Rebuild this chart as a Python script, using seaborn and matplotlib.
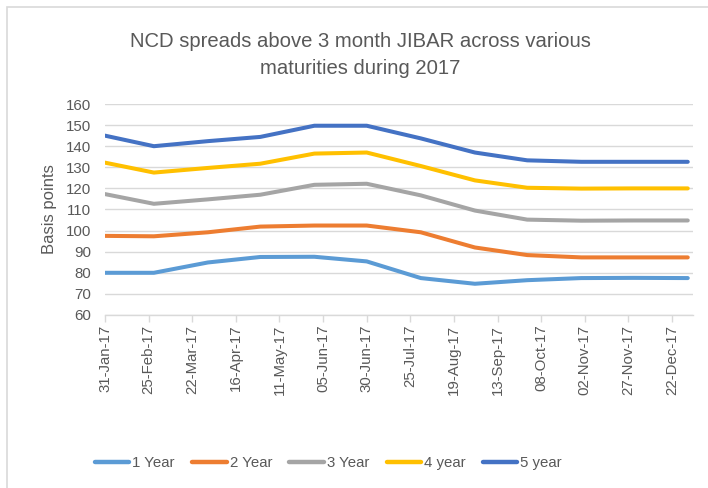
import pandas as pd
import matplotlib
matplotlib.use('Agg')
import matplotlib.pyplot as plt
import matplotlib.dates as mdates
from matplotlib.patches import Rectangle
import seaborn as sns

# Month-end observation dates (2017)
dates = ['2017-01-31', '2017-02-28', '2017-03-31', '2017-04-30', '2017-05-31', '2017-06-30',
         '2017-07-31', '2017-08-31', '2017-09-30', '2017-10-31', '2017-11-30', '2017-12-31']

# NCD spreads above 3m JIBAR, basis points
one_year = [80.0, 80.0, 84.9, 87.5, 87.6, 85.4, 77.5, 74.8, 76.5, 77.5, 77.6, 77.5]
two_year = [97.5, 97.3, 99.2, 101.9, 102.4, 102.4, 99.2, 92.0, 88.4, 87.3, 87.3, 87.3]
three_year = [117.3, 112.7, 114.8, 117.0, 121.7, 122.2, 116.7, 109.5, 105.2, 104.7, 104.8, 104.8]
four_year = [132.2, 127.5, 129.7, 131.7, 136.5, 137.0, 130.6, 123.8, 120.3, 119.9, 120.0, 120.0]
five_year = [145.0, 140.0, 142.4, 144.4, 149.7, 149.7, 143.7, 137.0, 133.3, 132.6, 132.6, 132.6]

series_names = ['1 Year', '2 Year', '3 Year', '4 year', '5 year']
colours = ['#5B9BD5', '#ED7D31', '#A5A5A5', '#FFC000', '#4472C4']

title = 'NCD spreads above 3 month JIBAR across various\nmaturities during 2017'

# long format for seaborn
frames = []
for name, vals in zip(series_names, [one_year, two_year, three_year, four_year, five_year]):
    frames.append(pd.DataFrame({'date': pd.to_datetime(dates), 'spread': vals, 'serie': name}))
df = pd.concat(frames, ignore_index=True)

sns.set_theme(style='white')
plt.rcParams['font.family'] = ['Liberation Sans', 'DejaVu Sans']
txt = '#595959'

fig = plt.figure(figsize=(7.08, 4.88), dpi=100)
ax = fig.add_axes([105 / 708, 1 - 315 / 488, 588 / 708, 211 / 488])

# chart-area border (left and top visible)
fig.patches.append(Rectangle((6.5 / 708, -0.1), 1.2, 1.1 - 7.5 / 488,
                             transform=fig.transFigure, fill=False,
                             edgecolor='#D9D9D9', linewidth=1.2, zorder=0))

sns.lineplot(data=df, x='date', y='spread', hue='serie', palette=colours,
             linewidth=2.9, ax=ax, legend=True, solid_capstyle='round',
             solid_joinstyle='round')

ax.set_ylim(60, 160)
ax.set_yticks(range(60, 161, 10))
ax.set_xlim(pd.Timestamp('2017-01-31'), pd.Timestamp('2018-01-03'))
ticks = pd.date_range('2017-01-31', periods=14, freq='25D')
ax.set_xticks(ticks)
ax.xaxis.set_major_formatter(mdates.DateFormatter('%d-%b-%y'))

ax.grid(axis='y', color='#D9D9D9', linewidth=1.0)
ax.grid(axis='x', visible=False)
ax.set_axisbelow(True)
for s in ['top', 'right', 'left']:
    ax.spines[s].set_visible(False)
ax.spines['bottom'].set_color('#D9D9D9')
ax.spines['bottom'].set_linewidth(1.0)

ax.tick_params(axis='x', which='major', direction='out', length=5, width=1.0,
               color='#D9D9D9', labelsize=10.8, labelcolor=txt, rotation=90, pad=2,
               bottom=True)
ax.tick_params(axis='y', length=0, labelsize=10.8, labelcolor=txt, pad=10)

ax.set_xlabel('')
ax.set_ylabel('Basis points', fontsize=12, color=txt, labelpad=6)

fig.text(0.509, 1 - 55 / 488, title, ha='center', va='center', fontsize=14.6,
         color=txt, linespacing=1.5)

handles, labels = ax.get_legend_handles_labels()
ax.legend_.remove()
leg = fig.legend(handles, labels, loc='center', bbox_to_anchor=(0.464, 1 - 463 / 488),
                 ncol=5, frameon=False, fontsize=10.8, handlelength=2.3,
                 handletextpad=0.2, columnspacing=1.15, labelcolor=txt)
for h in leg.get_lines():
    h.set_linewidth(3.2)
    h.set_solid_capstyle('round')

fig.savefig('out.png', dpi=100)
